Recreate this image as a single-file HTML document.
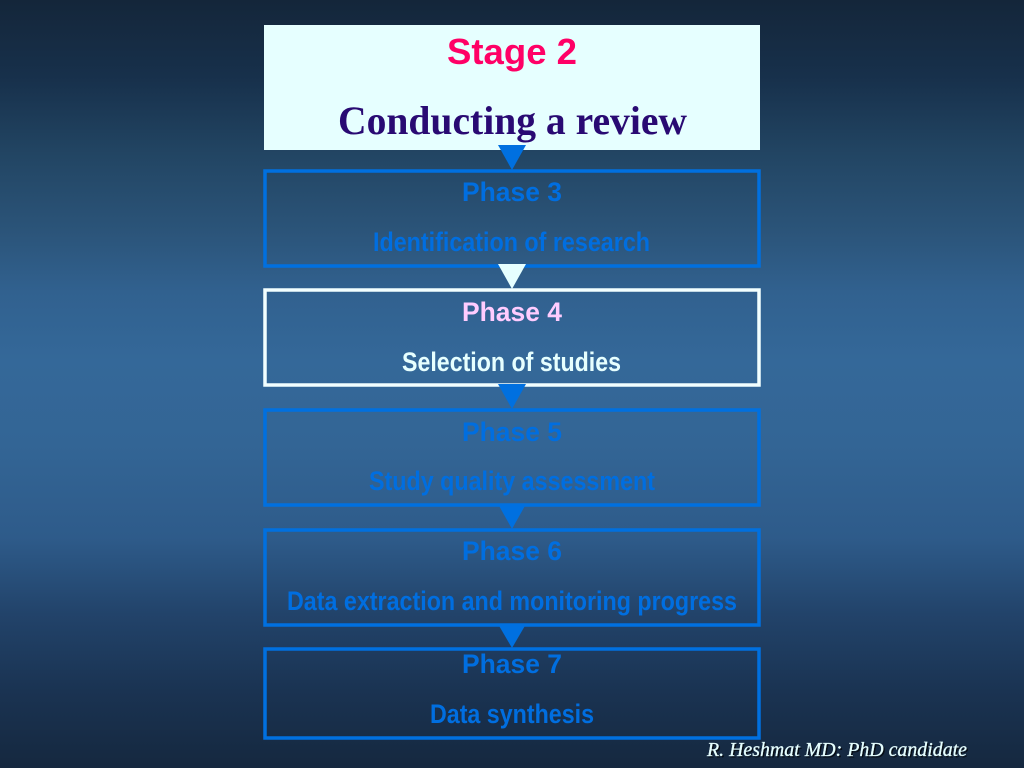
<!DOCTYPE html>
<html>
<head>
<meta charset="utf-8">
<style>
html,body{margin:0;padding:0;width:1024px;height:768px;overflow:hidden;background:#14283c}
svg{display:block}
text{text-anchor:start}
.s{font-family:"Liberation Sans",sans-serif;font-weight:bold}
.p{font-size:27px}
.d{font-size:27px}
</style>
</head>
<body>
<svg width="1024" height="768" viewBox="0 0 1024 768" xmlns="http://www.w3.org/2000/svg">
<defs>
<linearGradient id="bg" x1="0" y1="0" x2="0" y2="1">
<stop offset="0" stop-color="#14263a"/>
<stop offset="0.1" stop-color="#17304b"/>
<stop offset="0.2" stop-color="#224563"/>
<stop offset="0.3" stop-color="#2b5479"/>
<stop offset="0.38" stop-color="#31618f"/>
<stop offset="0.47" stop-color="#346899"/>
<stop offset="0.58" stop-color="#336595"/>
<stop offset="0.7" stop-color="#2e5b8a"/>
<stop offset="0.8" stop-color="#22436a"/>
<stop offset="0.9" stop-color="#1a3352"/>
<stop offset="1" stop-color="#15283f"/>
</linearGradient>
</defs>
<rect width="1024" height="768" fill="url(#bg)"/>

<rect x="264" y="25" width="496" height="125" fill="#e6ffff"/>
<text class="s" x="447" y="64" font-size="36" fill="#ff0066" textLength="130" lengthAdjust="spacingAndGlyphs">Stage 2</text>
<text x="338" y="134" font-family="'Liberation Serif',serif" font-weight="bold" font-size="40" fill="#290a73" textLength="349" lengthAdjust="spacingAndGlyphs">Conducting a review</text>

<g fill="none" stroke-width="3.5" stroke="#0070e0">
<rect x="265" y="171" width="494" height="95"/>
<rect x="265" y="410" width="494" height="95"/>
<rect x="265" y="530" width="494" height="95"/>
<rect x="265" y="649" width="494" height="89"/>
</g>
<rect x="265" y="290" width="494" height="95" fill="none" stroke="#f2ffff" stroke-width="3.5"/>

<g fill="#0070e0">
<polygon points="498,145 526,145 512,170"/>
<polygon points="498,384 526,384 512,409"/>
<polygon points="498,504 526,504 512,529"/>
<polygon points="498,624 526,624 512,648"/>
</g>
<polygon points="498,264 526,264 512,289" fill="#e6ffff"/>

<g class="s" fill="#006ee0">
<text class="s p" x="462" y="201" textLength="100" lengthAdjust="spacingAndGlyphs">Phase 3</text>
<text class="s d" x="373" y="251" textLength="277" lengthAdjust="spacingAndGlyphs">Identification of research</text>
<text class="s p" x="462" y="441" textLength="100" lengthAdjust="spacingAndGlyphs">Phase 5</text>
<text class="s d" x="369" y="490" textLength="286" lengthAdjust="spacingAndGlyphs">Study quality assessment</text>
<text class="s p" x="462" y="560" textLength="100" lengthAdjust="spacingAndGlyphs">Phase 6</text>
<text class="s d" x="287" y="610" textLength="450" lengthAdjust="spacingAndGlyphs">Data extraction and monitoring progress</text>
<text class="s p" x="462" y="673" textLength="100" lengthAdjust="spacingAndGlyphs">Phase 7</text>
<text class="s d" x="430" y="723" textLength="164" lengthAdjust="spacingAndGlyphs">Data synthesis</text>
</g>

<text class="s p" x="462" y="321" fill="#ffccff" textLength="100" lengthAdjust="spacingAndGlyphs">Phase 4</text>
<text class="s d" x="402" y="371" fill="#e6ffff" textLength="219" lengthAdjust="spacingAndGlyphs">Selection of studies</text>

<g font-family="'Liberation Serif',serif" font-style="italic" font-size="20">
<text x="708.5" y="757.5" fill="#000000" fill-opacity="0.7" textLength="260" lengthAdjust="spacingAndGlyphs">R. Heshmat MD: PhD candidate</text>
<text x="707" y="756" fill="#e6ffff" stroke="#e6ffff" stroke-width="0.3" textLength="260" lengthAdjust="spacingAndGlyphs">R. Heshmat MD: PhD candidate</text>
</g>
</svg>
</body>
</html>
